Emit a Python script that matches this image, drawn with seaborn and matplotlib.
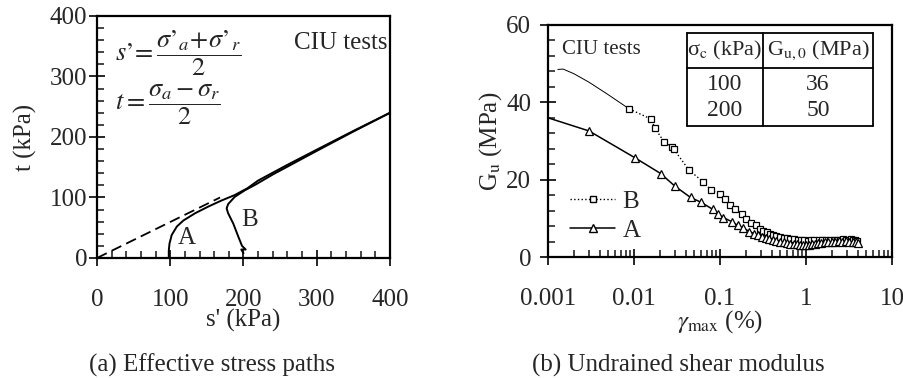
import numpy as np
import pandas as pd
import seaborn as sns
import matplotlib
matplotlib.use("Agg")
import matplotlib.pyplot as plt
from matplotlib.lines import Line2D
from matplotlib.ticker import MultipleLocator, LogLocator, NullFormatter, FixedLocator, FixedFormatter

# ---------------- data: (a) effective stress paths ----------------
failure_s = [0, 168]
failure_t = [0, 100]

pathA_s = [98, 98, 99, 102, 109, 118, 134, 152, 170, 188, 205, 220, 260, 300, 350, 400]
pathA_t = [0, 12, 24, 38, 52, 62, 74, 85, 95, 104, 115, 128, 154, 179, 210, 240]

pathB_s = [200, 197, 203, 198, 193, 186, 179, 177, 179, 188, 202, 216, 240, 300, 350, 400]
pathB_t = [8, 14, 14, 20, 35, 57, 74, 82, 89, 101, 112, 121, 138, 177, 209, 240]

# ---------------- data: (b) undrained shear modulus ----------------
B_fit_x = [0.0013, 0.0015, 0.002, 0.003, 0.005, 0.0088]
B_fit_y = [48.5, 48.6, 47.4, 45.2, 42.0, 38.3]

B_x = [0.0088, 0.0157, 0.0175, 0.0223, 0.0279, 0.029, 0.0435, 0.064, 0.078, 0.1,
       0.114, 0.13, 0.15, 0.18, 0.2, 0.23, 0.26, 0.29,
       0.32, 0.35, 0.38, 0.41, 0.45, 0.5, 0.55, 0.6, 0.66, 0.72, 0.8, 0.88, 0.95,
       1.05, 1.15, 1.25, 1.4, 1.55, 1.7, 1.9, 2.1, 2.3, 2.5, 2.7, 2.9, 3.1, 3.3,
       3.5, 3.7, 3.9]
B_y = [38.3, 35.7, 33.4, 29.8, 28.5, 27.9, 22.5, 19.4, 17.4, 16.2,
       14.9, 13.4, 12.5, 11.2, 9.9, 8.8, 8.2, 7.3,
       6.8, 6.4, 6.0, 5.8, 5.5, 5.2, 5.0, 4.9, 4.7, 4.6, 4.5, 4.4, 4.3,
       4.2, 4.4, 4.3, 4.5, 4.3, 4.4, 4.5, 4.3, 4.4, 4.5, 4.6, 4.4, 4.5, 4.6,
       4.5, 4.4, 4.2]

A_x = [0.001, 0.003, 0.0102, 0.0204, 0.030, 0.0455, 0.0596, 0.083, 0.094, 0.109,
       0.139, 0.16, 0.187, 0.22, 0.25,
       0.28, 0.31, 0.34, 0.37, 0.41, 0.45, 0.5, 0.55, 0.6, 0.66, 0.72, 0.78, 0.85,
       0.92, 1.0, 1.08, 1.17, 1.27, 1.38, 1.5, 1.65, 1.8, 2.0, 2.2, 2.4, 2.65,
       2.9, 3.2, 3.5, 3.8, 4.0]
A_y = [36.0, 32.6, 25.7, 21.6, 18.3, 15.4, 14.2, 12.3, 11.2, 10.2,
       9.1, 8.2, 7.5, 6.6, 6.0,
       5.6, 5.3, 5.0, 4.7, 4.4, 4.2, 4.0, 3.8, 3.6, 3.5, 3.4, 3.3, 3.2,
       3.1, 3.0, 3.1, 3.3, 3.4, 3.6, 3.7, 3.8, 3.9, 4.0, 4.0, 4.1, 4.0,
       4.1, 4.0, 3.9, 3.8, 3.6]
A_marker_x = A_x[1:]
A_marker_y = A_y[1:]

table_header = ["σ$_{\\mathrm{c}}$ (kPa)", "G$_{\\mathrm{u,0}}$ (MPa)"]
table_sigma = ["100", "200"]
table_G0 = ["36", "50"]

# ---------------- style ----------------
sns.set_theme(style="white")
plt.rcParams['font.family'] = ['Liberation Serif', 'DejaVu Serif']
plt.rcParams['mathtext.fontset'] = 'stix'
plt.rcParams['axes.edgecolor'] = 'black'
plt.rcParams['axes.linewidth'] = 1.6
FS = 18
TFS = 16

fig = plt.figure(figsize=(9.04, 3.78), dpi=100)
ax1 = fig.add_axes([0.1073, 0.3175, 0.3241, 0.6402])
ax2 = fig.add_axes([0.6062, 0.3200, 0.3805, 0.6139])

# ---------------- (a) ----------------
sns.lineplot(x=failure_s, y=failure_t, ax=ax1, color='black', lw=1.3,
             linestyle=(0, (6, 3)), sort=False, estimator=None)
sns.lineplot(x=pathA_s, y=pathA_t, ax=ax1, color='black', lw=1.4, sort=False, estimator=None)
sns.lineplot(x=pathB_s, y=pathB_t, ax=ax1, color='black', lw=1.4, sort=False, estimator=None)

ax1.set_xlim(0, 400)
ax1.set_ylim(0, 400)
ax1.xaxis.set_major_locator(MultipleLocator(100))
ax1.yaxis.set_major_locator(MultipleLocator(100))
ax1.xaxis.set_minor_locator(MultipleLocator(20))
ax1.yaxis.set_minor_locator(MultipleLocator(20))
ax1.tick_params(axis='x', which='major', direction='inout', length=12, width=1.4,
                labelsize=FS, pad=16)
ax1.tick_params(axis='y', which='major', direction='inout', length=12, width=1.4,
                labelsize=FS, pad=1)
ax1.tick_params(which='minor', direction='in', length=5, width=1.2)
ax1.tick_params(bottom=True, left=True, top=False, right=False, which='both')
ax1.set_xlabel("s' (kPa)", fontsize=FS, labelpad=-1)
ax1.set_ylabel("t (kPa)", fontsize=FS, labelpad=9)
ax1.text(123, 33, "A", fontsize=FS, ha='center', va='center')
ax1.text(208, 63, "B", fontsize=FS, ha='center', va='center')
ax1.text(396, 355, "CIU tests", fontsize=FS, ha='right', va='center')
ax1.text(25, 339, "$s\u2019\\!=\\dfrac{\\sigma\u2019_a\\!+\\!\\sigma\u2019_r}{2}$", fontsize=FS + 1,
         ha='left', va='center')
ax1.text(25, 254, r"$t=\dfrac{\sigma_a-\sigma_r}{2}$", fontsize=FS + 1, ha='left', va='center')
fig.text(0.235, 0.034, "(a) Effective stress paths", fontsize=FS, ha='center', va='center')

# ---------------- (b) ----------------
sns.lineplot(x=B_fit_x, y=B_fit_y, ax=ax2, color='black', lw=0.7, sort=False, estimator=None)
sns.lineplot(x=B_x, y=B_y, ax=ax2, color='black', lw=1.0, linestyle=':', marker='s',
             markersize=5, markerfacecolor='white', markeredgecolor='black',
             markeredgewidth=0.9, sort=False, estimator=None)
sns.lineplot(x=A_x, y=A_y, ax=ax2, color='black', lw=1.1, sort=False, estimator=None)
sns.lineplot(x=A_marker_x, y=A_marker_y, ax=ax2, color='black', lw=0, marker='^',
             markersize=6, markerfacecolor='white', markeredgecolor='black',
             markeredgewidth=0.9, sort=False, estimator=None)

ax2.set_xscale('log')
ax2.set_xlim(0.001, 10)
ax2.set_ylim(0, 60)
ax2.xaxis.set_major_locator(FixedLocator([0.001, 0.01, 0.1, 1, 10]))
ax2.xaxis.set_major_formatter(FixedFormatter(["0.001", "0.01", "0.1", "1", "10"]))
ax2.xaxis.set_minor_locator(LogLocator(base=10, subs=np.arange(2, 10)))
ax2.xaxis.set_minor_formatter(NullFormatter())
ax2.yaxis.set_major_locator(MultipleLocator(20))
ax2.yaxis.set_minor_locator(MultipleLocator(4))
ax2.tick_params(axis='x', which='major', direction='inout', length=12, width=1.4,
                labelsize=FS, pad=16)
ax2.tick_params(axis='y', which='major', direction='inout', length=12, width=1.4,
                labelsize=FS, pad=6)
ax2.tick_params(which='minor', direction='in', length=5, width=1.2)
ax2.tick_params(bottom=True, left=True, top=False, right=False, which='both')
ax2.set_xlabel(r"$\gamma_{\mathrm{max}}$ (%)", fontsize=FS, labelpad=-1)
ax2.set_ylabel(r"G$_{\mathrm{u}}$ (MPa)", fontsize=FS, labelpad=2)
ax2.text(0.04, 0.895, "CIU tests", fontsize=FS - 3, transform=ax2.transAxes, ha='left', va='center')

handles = [
    Line2D([], [], color='black', lw=1.0, linestyle=':', marker='s', markersize=5,
           markerfacecolor='white', markeredgecolor='black'),
    Line2D([], [], color='black', lw=1.1, marker='^', markersize=6,
           markerfacecolor='white', markeredgecolor='black'),
]
leg = ax2.legend(handles, ["B", "A"], loc='center left', bbox_to_anchor=(0.064, 0.177),
                 frameon=False, fontsize=FS, handlelength=1.8, handletextpad=0.3,
                 labelspacing=0.25, borderpad=0, borderaxespad=0)

# inset table drawn in axes coordinates
tx0, tx1, txm = 0.404, 0.945, 0.625
ty0, ty1, tyh = 0.565, 0.966, 0.815
lw_t = 1.3
for (xa, ya, xb, yb) in [(tx0, ty0, tx1, ty0), (tx0, ty1, tx1, ty1), (tx0, ty0, tx0, ty1),
                         (tx1, ty0, tx1, ty1), (txm, ty0, txm, ty1), (tx0, tyh, tx1, tyh)]:
    ax2.add_line(Line2D([xa, xb], [ya, yb], transform=ax2.transAxes, color='black', lw=lw_t))
ax2.text((tx0 + txm) / 2, (tyh + ty1) / 2, table_header[0], transform=ax2.transAxes,
         ha='center', va='center', fontsize=TFS)
ax2.text((txm + tx1) / 2, (tyh + ty1) / 2, table_header[1], transform=ax2.transAxes,
         ha='center', va='center', fontsize=TFS)
row_y = [ty0 + (tyh - ty0) * 0.72, ty0 + (tyh - ty0) * 0.27]
for i in range(2):
    ax2.text((tx0 + txm) / 2, row_y[i], table_sigma[i], transform=ax2.transAxes,
             ha='center', va='center', fontsize=TFS + 1)
    ax2.text((txm + tx1) / 2, row_y[i], table_G0[i], transform=ax2.transAxes,
             ha='center', va='center', fontsize=TFS + 1)

fig.text(0.75, 0.034, "(b) Undrained shear modulus", fontsize=FS, ha='center', va='center')

fig.savefig("out.png", dpi=100)
